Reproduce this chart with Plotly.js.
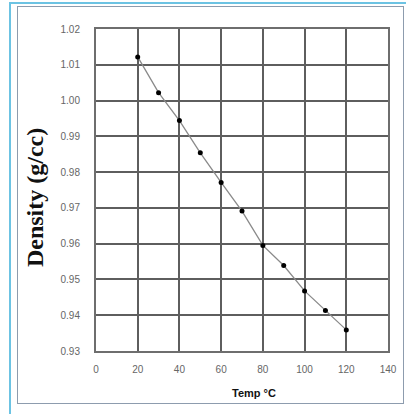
<!DOCTYPE html>
<html>
<head>
<meta charset="utf-8">
<script src="https://cdn.plot.ly/plotly-3.0.1.min.js"></script>
<style>
  html, body { margin: 0; padding: 0; background: #fff; }
  #wrap { position: relative; width: 406px; height: 414px; overflow: hidden; }
  #chart { position: absolute; left: 0; top: 0; width: 406px; height: 414px; }
  .blue { position: absolute; left: 9px; top: 2px; width: 400px; height: 420px; border: 2px solid #6cc3e3; pointer-events: none; }
  .grey { position: absolute; left: 17px; top: 6px; width: 385px; height: 396px; border: 1px solid #8d9cae; pointer-events: none; }
</style>
</head>
<body>
<div id="wrap">
  <div id="chart"></div>
  <div class="blue"></div>
  <div class="grey"></div>
</div>
<script>
const temps = [20, 30, 40, 50, 60, 70, 80, 90, 100, 110, 120];
const density = [1.0122, 1.0022, 0.9944, 0.9854, 0.9771, 0.9691, 0.9595, 0.9539, 0.9468, 0.9413, 0.9359];
const xTicks = [0, 20, 40, 60, 80, 100, 120, 140];
const yTicks = [0.93, 0.94, 0.95, 0.96, 0.97, 0.98, 0.99, 1.00, 1.01, 1.02];
const yTickText = ['0.93', '0.94', '0.95', '0.96', '0.97', '0.98', '0.99', '1.00', '1.01', '1.02'];

const trace = {
  x: temps, y: density, type: 'scatter', mode: 'lines+markers',
  line: { color: '#8a8a8a', width: 1.3 },
  marker: { color: '#000', size: 5 },
  hoverinfo: 'skip'
};

const layout = {
  width: 406, height: 414,
  margin: { l: 96, r: 18, t: 29, b: 63 },
  paper_bgcolor: 'rgba(0,0,0,0)', plot_bgcolor: '#fff',
  showlegend: false,
  font: { family: 'Liberation Sans, Arial, sans-serif', color: '#666', size: 10 },
  xaxis: {
    range: [0, 140], tickvals: xTicks, ticks: '', showgrid: true,
    gridcolor: '#5e5e5e', gridwidth: 2, showline: true, linecolor: '#6e6e6e', linewidth: 2,
    mirror: true, zeroline: false, ticklabelstandoff: 8,
    tickfont: { size: 10, color: '#666' }
  },
  yaxis: {
    range: [0.93, 1.02], tickvals: yTicks, ticktext: yTickText, ticks: '', showgrid: true,
    gridcolor: '#5e5e5e', gridwidth: 2, showline: true, linecolor: '#6e6e6e', linewidth: 2,
    mirror: true, zeroline: false, ticklabelstandoff: 12,
    tickfont: { size: 10, color: '#666' }
  },
  annotations: [
    { text: '<b>Density (g/cc)</b>', textangle: -90, xref: 'paper', yref: 'paper',
      x: -0.209, y: 0.478, xanchor: 'center', yanchor: 'middle', showarrow: false,
      font: { family: 'Liberation Serif, Times New Roman, serif', size: 24, color: '#111' } },
    { text: '<b>Temp °C</b>', xref: 'paper', yref: 'paper',
      x: 0.54, y: -0.13, xanchor: 'center', yanchor: 'middle', showarrow: false,
      font: { family: 'Liberation Sans, Arial, sans-serif', size: 11, color: '#111' } }
  ]
};

Plotly.newPlot('chart', [trace], layout, { displayModeBar: false, staticPlot: true });
</script>
</body>
</html>
